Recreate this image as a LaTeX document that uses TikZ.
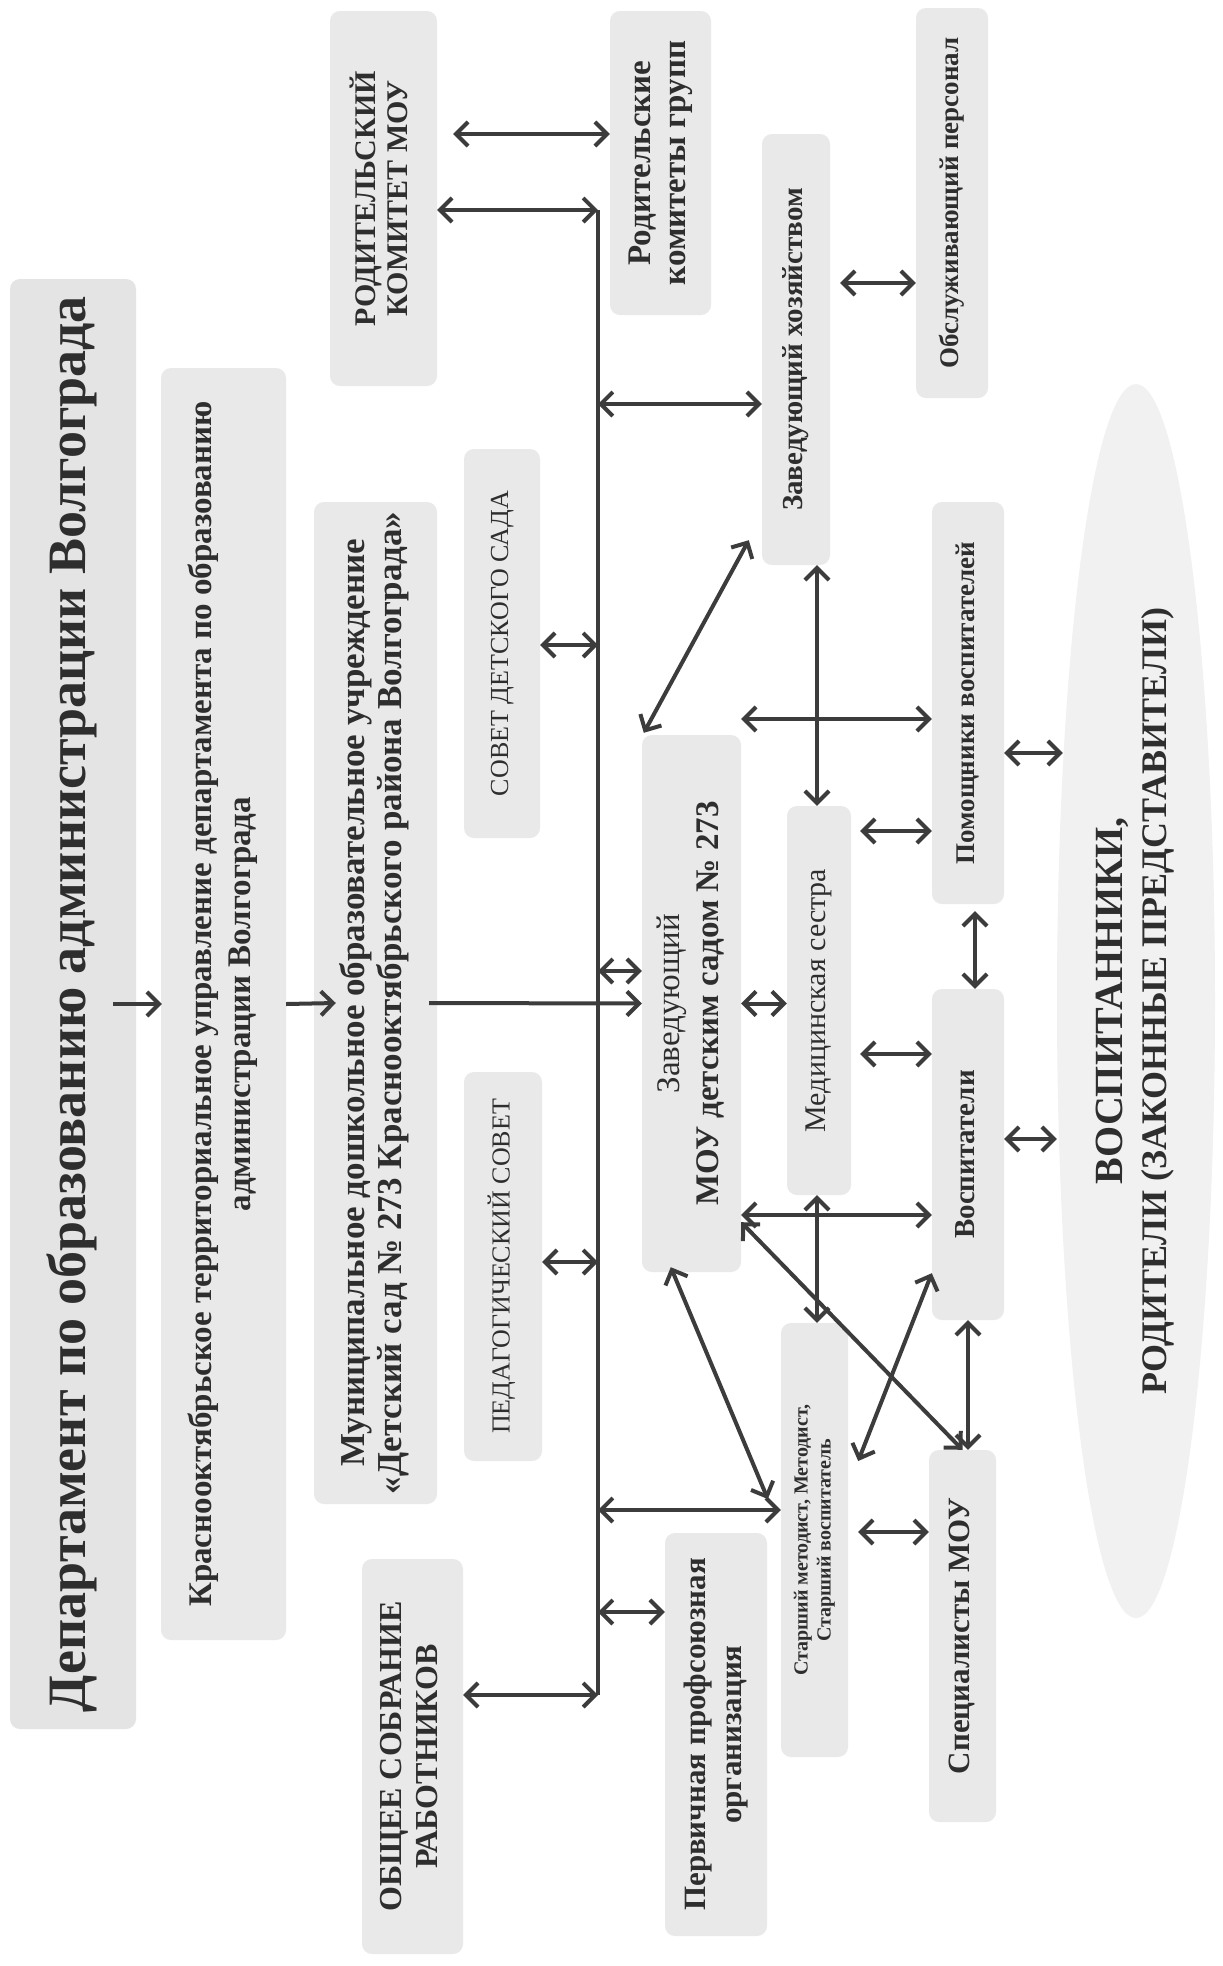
\documentclass[tikz,border=0pt]{standalone}
\usepackage{graphicx}
\usepackage{fontspec}
\setmainfont{Liberation Serif}
\usetikzlibrary{arrows.meta,shapes.geometric}
\definecolor{boxgray}{HTML}{E9E9E9}
\definecolor{deptgray}{HTML}{E4E4E4}
\definecolor{ellgray}{HTML}{F1F1F1}
\definecolor{txt}{HTML}{2E2E2E}
\definecolor{arr}{HTML}{3C3C3C}
\newcommand{\rtxt}[3]{\rotatebox{90}{\fontsize{#1}{#2}\selectfont\begin{tabular}{@{}c@{}}#3\end{tabular}}}
\newcommand{\rtxb}[3]{\rotatebox{90}{\fontsize{#1}{#2}\selectfont\bfseries\begin{tabular}{@{}c@{}}#3\end{tabular}}}
\tikzset{
  barb/.tip={Straight Barb[length=12pt,width=24pt]},
  box/.style={fill=boxgray, rounded corners=10pt, inner sep=0pt, text=txt, align=center},
  lnk/.style={draw=arr, line width=4pt},
  one/.style={lnk, -barb},
  two/.style={lnk, barb-barb},
}
\begin{document}
\begin{tikzpicture}[x=1pt,y=-1pt]
\useasboundingbox (0,0) rectangle (1223,1966);
\fill[white] (0,0) rectangle (1223,1966);

% boxes
\node[box, fill=deptgray, minimum width=126pt, minimum height=1450pt] (dept) at (73,1004)
  {\rtxb{54}{62}{Департамент по образованию администрации Волгограда}};
\node[box, minimum width=125pt, minimum height=1272pt] (krasno) at (223.5,1004)
  {\rtxb{33}{39}{Краснооктябрьское территориальное управление департамента по образованию\\ администрации Волгограда}};
\node[box, minimum width=123pt, minimum height=1002pt] (muni) at (375.5,1003)
  {\rtxb{35}{37}{Муниципальное дошкольное образовательное учреждение\\ «Детский сад № 273 Краснооктябрьского района Волгограда»}};
\node[box, minimum width=107pt, minimum height=375pt] (rodkom) at (383.5,198.5)
  {\rtxb{30}{32}{РОДИТЕЛЬСКИЙ\\ КОМИТЕТ МОУ}};
\node[box, minimum width=76pt, minimum height=389pt] (sovet) at (502,643.5)
  {\rtxt{26}{30}{СОВЕТ ДЕТСКОГО САДА}};
\node[box, minimum width=78pt, minimum height=389pt] (pedsovet) at (503,1266.5)
  {\rtxt{26}{30}{ПЕДАГОГИЧЕСКИЙ СОВЕТ}};
\node[box, minimum width=101pt, minimum height=395pt] (obsch) at (412.5,1756.5)
  {\rtxb{32}{36}{ОБЩЕЕ СОБРАНИЕ\\ РАБОТНИКОВ}};
\node[box, minimum width=101pt, minimum height=304pt] (rodgr) at (660.5,163)
  {\rtxb{33}{35}{Родительские\\ комитеты групп}};
\node[box, minimum width=68pt, minimum height=431pt] (zavhoz) at (796,349.5)
  {\rtxb{29}{32}{Заведующий хозяйством}};
\node[box, minimum width=72pt, minimum height=390pt] (obsl) at (952,203)
  {\rtxb{27}{30}{Обслуживающий персонал}};
\node[box, minimum width=99pt, minimum height=537pt] (zav) at (691.5,1003.5)
  {\rtxt{33}{39}{Заведующий\\ \bfseries МОУ детским садом № 273}};
\node[box, minimum width=64pt, minimum height=389pt] (med) at (819,1000.5)
  {\rtxt{30}{32}{Медицинская сестра}};
\node[box, minimum width=72pt, minimum height=402pt] (pom) at (968,703)
  {\rtxb{27}{30}{Помощники воспитателей}};
\node[box, minimum width=72pt, minimum height=331pt] (vosp) at (968,1154.5)
  {\rtxb{29}{32}{Воспитатели}};
\node[box, minimum width=67pt, minimum height=434pt] (star) at (814.5,1540)
  {\rtxb{20}{23}{Старший методист, Методист,\\ Старший воспитатель}};
\node[box, minimum width=67pt, minimum height=372pt] (spec) at (962.5,1636)
  {\rtxb{31}{34}{Специалисты МОУ}};
\node[box, minimum width=102pt, minimum height=403pt] (perv) at (716,1734.5)
  {\rtxb{31}{36}{Первичная профсоюзная\\ организация}};
\node[ellipse, fill=ellgray, inner sep=0pt, text=txt, minimum width=158pt, minimum height=1234pt] (ell) at (1136,1001)
  {\rtxb{36}{44}{{\fontsize{40}{44}\selectfont ВОСПИТАННИКИ,}\\ РОДИТЕЛИ (ЗАКОННЫЕ ПРЕДСТАВИТЕЛИ)}};

% level coordinates
\coordinate (busT) at (598,210);
\coordinate (busB) at (598,1695);
\coordinate (b404) at (598,404);
\coordinate (b645) at (598,645);
\coordinate (b971) at (598,971);
\coordinate (b1262) at (598,1262);
\coordinate (b1510) at (598,1510);
\coordinate (b1612) at (598,1612);
\coordinate (yRG) at (0,134);
\coordinate (yOB) at (0,283);
\coordinate (yPM) at (0,719);
\coordinate (yMP) at (0,831);
\coordinate (yMV) at (0,1054);
\coordinate (yPE) at (0,753);
\coordinate (yVE) at (0,1139);
\coordinate (yZV) at (0,1215);
\coordinate (ySS) at (0,1532);
\coordinate (xM) at (817,0);
\coordinate (xPV) at (975,0);

% bus
\draw[lnk] (busT) -- (busB);

% hierarchy
\draw[one] ([xshift=-23pt]dept.east) -- ([xshift=1pt]krasno.west);
\draw[one] (krasno.east) -- ([xshift=22pt]muni.west);
\draw[one] ([xshift=-8pt]muni.east) -- (zav.west);

% top
\draw[two, shorten <=16pt] (rodkom.east |- yRG) -- (rodgr.west |- yRG);
\draw[two] (rodkom.east |- busT) -- (busT);

% bus branches
\draw[two] (b404) -- (zavhoz.west |- b404);
\draw[two] (sovet.east |- b645) -- (b645);
\draw[two] (b971) -- (zav.west |- b971);
\draw[two] (pedsovet.east |- b1262) -- (b1262);
\draw[two] (b1510) -- (star.west |- b1510);
\draw[two] (b1612) -- (perv.west |- b1612);
\draw[two] (obsch.east |- busB) -- (busB);

% centre
\draw[two, shorten <=10pt] (zavhoz.east |- yOB) -- (obsl.west |- yOB);
\draw[two] (zavhoz.south -| xM) -- (med.north -| xM);
\draw[two] ([shift={(-13,-25)}]zavhoz.south west) -- ([xshift=2pt,yshift=2pt]zav.north west);
\draw[two] (zav.east |- yPM) -- (pom.west |- yPM);
\draw[two] (zav.east) -- (zav.east -| med.west);
\draw[two, shorten <=9pt] (med.east |- yMP) -- (pom.west |- yMP);
\draw[two, shorten <=9pt] (med.east |- yMV) -- (vosp.west |- yMV);
\draw[two, shorten <=7pt] (pom.south -| xPV) -- (vosp.north -| xPV);
\draw[two, shorten >=-6pt] (pom.east |- yPE) -- (ell.west |- yPE);
\draw[two] (vosp.east |- yVE) -- (ell.west |- yVE);
\draw[two] (zav.east |- yZV) -- (vosp.west |- yZV);
\draw[two] (med.south -| xM) -- (star.north -| xM);
\draw[two] ([yshift=50pt]zav.south east) -- (spec.north);
\draw[two] ([xshift=29pt,yshift=5pt]zav.south west) -- ([shift={(-13,-41)}]star.west);
\draw[two] ([yshift=47pt]vosp.south west) -- ([shift={(10,-79)}]star.east);
\draw[two, shorten <=10pt] (star.east |- ySS) -- (spec.west |- ySS);
\draw[two] (vosp.south) -- (vosp.south |- spec.north);
\end{tikzpicture}
\end{document}
